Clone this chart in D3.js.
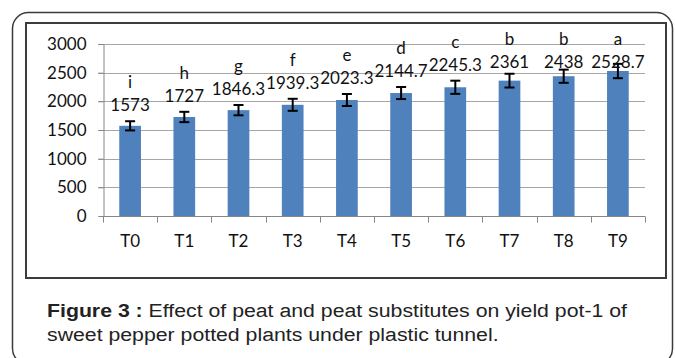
<!DOCTYPE html>
<html><head><meta charset="utf-8">
<script src="https://cdn.jsdelivr.net/npm/d3@7/dist/d3.min.js"></script>
<style>
html,body{margin:0;padding:0;background:#fff;}
svg{display:block;}
</style></head>
<body>
<svg id="chart" width="675" height="358"></svg>
<script>
const categories = ["T0","T1","T2","T3","T4","T5","T6","T7","T8","T9"];
const values = [1573, 1727, 1846.3, 1939.3, 2023.3, 2144.7, 2245.3, 2361, 2438, 2528.7];
const errors = [80, 90, 90, 105, 105, 105, 115, 120, 115, 125];
const letters = ["i","h","g","f","e","d","c","b","b","a"];
const valueLabels = ["1573","1727","1846.3","1939.3","2023.3","2144.7","2245.3","2361","2438","2528.7"];
const yTicks = [0, 500, 1000, 1500, 2000, 2500, 3000];
const captionBold = "Figure 3 :";
const captionLine1 = " Effect of peat and peat substitutes on yield pot-1 of";
const captionLine2 = "sweet pepper potted plants under plastic tunnel.";

const svg = d3.select("#chart");
const chartFont = "Lato, 'Open Sans', sans-serif";
const fs = 17;

// outer rounded frame
svg.append("rect").attr("x",12.5).attr("y",12.5).attr("width",660).attr("height",352)
  .attr("rx",16).attr("fill","none").attr("stroke","#3a3a3a").attr("stroke-width",1.5);
// inner chart frame
svg.append("rect").attr("x",26).attr("y",23).attr("width",640).attr("height",255)
  .attr("fill","#fff").attr("stroke","#3c3c3c").attr("stroke-width",2);

const x = d3.scaleBand().domain(categories).range([103,645]).paddingInner(0.6).paddingOuter(0.3);
const xb = d3.scaleBand().domain(categories).range([103,645]);
const y = d3.scaleLinear().domain([0,3000]).range([216,44]);

// gridlines
svg.append("g").selectAll("line").data(yTicks.filter(d=>d>0)).join("line")
  .attr("x1",98).attr("x2",645).attr("y1",d=>Math.round(y(d))+0.5).attr("y2",d=>Math.round(y(d))+0.5)
  .attr("stroke","#a6a6a6").attr("stroke-width",1);

// y axis
const yAxis = svg.append("g").attr("transform","translate(103.5,0)")
  .call(d3.axisLeft(y).tickValues(yTicks).tickSize(5).tickPadding(12).tickFormat(d3.format("d")));
yAxis.select(".domain").attr("stroke","#868686");
yAxis.selectAll(".tick line").attr("stroke","#868686");
yAxis.selectAll(".tick text").attr("font-family",chartFont).attr("font-size",fs).attr("fill","#111");

// x axis with ticks at band boundaries
const xAxisG = svg.append("g").attr("transform","translate(0,216.5)");
xAxisG.append("line").attr("x1",103).attr("x2",645).attr("y1",0).attr("y2",0).attr("stroke","#868686");
const bounds = categories.map(c=>xb(c)).concat([xb.range()[1]]);
xAxisG.selectAll("line.tk").data(bounds).join("line").attr("class","tk")
  .attr("x1",d=>Math.round(d)+0.5).attr("x2",d=>Math.round(d)+0.5).attr("y1",0).attr("y2",6)
  .attr("stroke","#868686");
xAxisG.selectAll("text").data(categories).join("text")
  .attr("x",d=>xb(d)+xb.bandwidth()/2).attr("y",30)
  .attr("text-anchor","middle").attr("font-family",chartFont).attr("font-size",fs).attr("fill","#111")
  .text(d=>d);

// bars
const data = categories.map((c,i)=>({c, v:values[i], e:errors[i], l:letters[i], t:valueLabels[i]}));
svg.append("g").selectAll("rect").data(data).join("rect")
  .attr("x",d=>x(d.c)).attr("width",x.bandwidth())
  .attr("y",d=>y(d.v)).attr("height",d=>y(0)-y(d.v))
  .attr("fill","#4f81bd");

// error bars
const eb = svg.append("g").attr("stroke","#000").attr("stroke-width",2);
data.forEach(d=>{
  const cx = x(d.c)+x.bandwidth()/2;
  eb.append("line").attr("x1",cx).attr("x2",cx).attr("y1",y(d.v+d.e)).attr("y2",y(d.v-d.e));
  eb.append("line").attr("x1",cx-5).attr("x2",cx+5).attr("y1",y(d.v+d.e)).attr("y2",y(d.v+d.e));
  eb.append("line").attr("x1",cx-5).attr("x2",cx+5).attr("y1",y(d.v-d.e)).attr("y2",y(d.v-d.e));
});

// labels: value above error bar, clamped near top; letter above value
const labelY = d => Math.max(y(d.v+d.e)-16, y(2690));
const lg = svg.append("g").attr("font-family",chartFont).attr("font-size",fs).attr("fill","#111").attr("text-anchor","middle");
lg.selectAll("text.val").data(data).join("text").attr("class","val")
  .attr("x",d=>x(d.c)+x.bandwidth()/2).attr("y",d=>labelY(d)).attr("dy","0.36em").text(d=>d.t);
lg.selectAll("text.let").data(data).join("text").attr("class","let")
  .attr("x",d=>x(d.c)+x.bandwidth()/2).attr("y",d=>labelY(d)-23).attr("dy","0.36em").text(d=>d.l);

// caption (slightly wide face, as in the reference)
const capG = svg.append("g").attr("transform","translate(47,0) scale(1.12,1)")
  .attr("font-family","'Liberation Sans', Arial, sans-serif").attr("font-size",19).attr("fill","#222");
const cap = capG.append("text").attr("x",0).attr("y",317);
cap.append("tspan").attr("font-weight","bold").text(captionBold);
cap.append("tspan").text(captionLine1);
capG.append("text").attr("x",0).attr("y",341.5).text(captionLine2);
</script>
</body></html>
